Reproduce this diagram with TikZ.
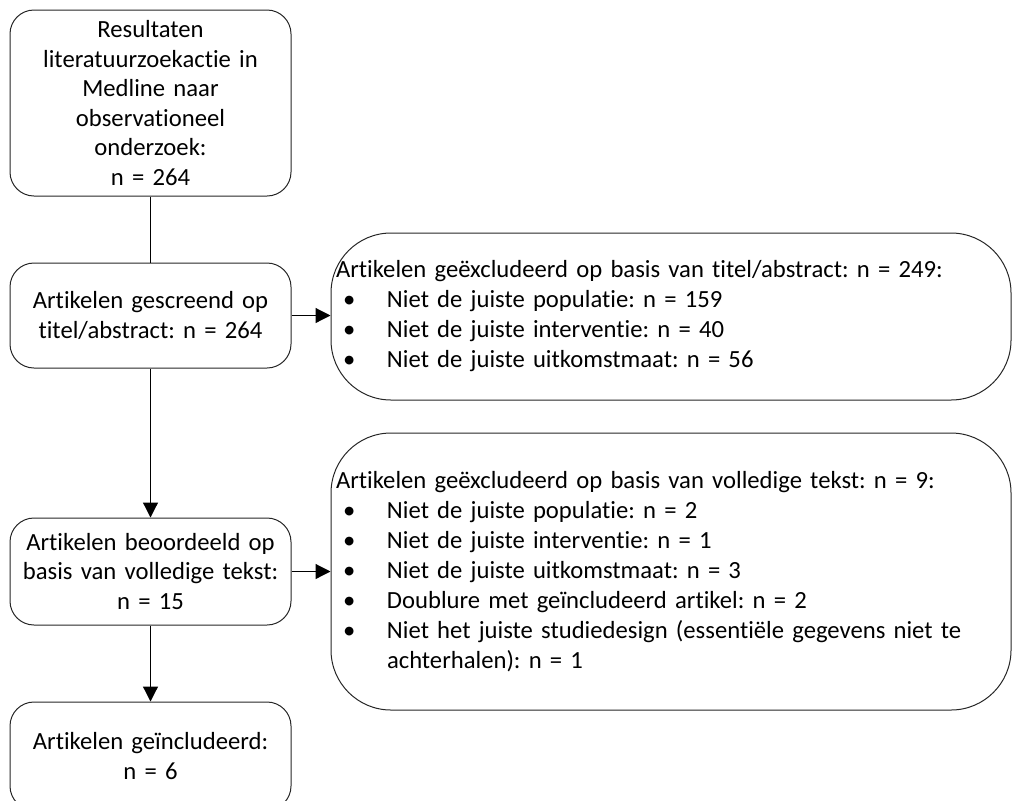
\documentclass[tikz,border=0pt]{standalone}
\usepackage{fontspec}
\setmainfont{Carlito}[RawFeature={-liga;-clig;-calt;-rlig;-dlig}]
\usetikzlibrary{arrows.meta}
\newcommand\bulitem[1]{\makebox[38.25pt][l]{\hspace{5.25pt}•}#1}
\frenchspacing
\begin{document}
\begin{tikzpicture}[x=0.75pt,y=-0.75pt,
  every node/.style={font=\frenchspacing\fontsize{18.5pt}{22.2pt}\selectfont},
  leftbox/.style={draw=black!85, line width=0.75pt, rounded corners=18pt,
    minimum width=210.75pt, text width=200pt, align=center, inner sep=0pt},
  rightbox/.style={draw=black!85, line width=0.75pt, rounded corners=45pt,
    minimum width=510pt, text width=502.5pt, align=left, inner xsep=3.75pt, inner ysep=0pt,
    font=\frenchspacing\fontsize{18.5pt}{22.5pt}\selectfont},
  conn/.style={draw=black, line width=0.9pt},
  arr/.style={conn, -{Triangle[length=11.25pt,width=11.25pt]}}
]
\clip (0,0) rectangle (1012,800);
\path[use as bounding box] (0,0) rectangle (1012,800);

\node[leftbox, minimum height=139.5pt] (b1) at (150.5,103)
  {Resultaten\\literatuurzoekactie in\\Medline naar\\observationeel\\onderzoek:\\n = 264};
\node[leftbox, minimum height=78.75pt] (b2) at (150.5,315.5)
  {Artikelen gescreend op\\titel/abstract: n = 264};
\node[leftbox, minimum height=80.25pt] (b4) at (150.5,571.5)
  {Artikelen beoordeeld op\\basis van volledige tekst:\\n = 15};
\node[leftbox, minimum height=81pt] (b5) at (150.5,756)
  {Artikelen geïncludeerd:\\n = 6};

\node[rightbox, minimum height=125.25pt] (b3) at (671,316.5)
  {Artikelen geëxcludeerd op basis van titel/abstract: n = 249:\\
   \bulitem{Niet de juiste populatie: n = 159}\\
   \bulitem{Niet de juiste interventie: n = 40}\\
   \bulitem{Niet de juiste uitkomstmaat: n = 56}};
\node[rightbox, minimum height=207.75pt] (b6) at (671,571.5)
  {Artikelen geëxcludeerd op basis van volledige tekst: n = 9:\\
   \bulitem{Niet de juiste populatie: n = 2}\\
   \bulitem{Niet de juiste interventie: n = 1}\\
   \bulitem{Niet de juiste uitkomstmaat: n = 3}\\
   \bulitem{Doublure met geïncludeerd artikel: n = 2}\\
   \bulitem{Niet het juiste studiedesign (essentiële gegevens niet te}\\
   \hspace*{38.25pt}achterhalen): n = 1};

\draw[conn] (b1.south) -- (b2.north);
\draw[arr] (b2.south) -- (b4.north);
\draw[arr] (b4.south) -- (b5.north);
\draw[arr] (b2.east) -- (b2.east -| b3.west);
\draw[arr] (b4.east) -- (b4.east -| b6.west);
\end{tikzpicture}
\end{document}
